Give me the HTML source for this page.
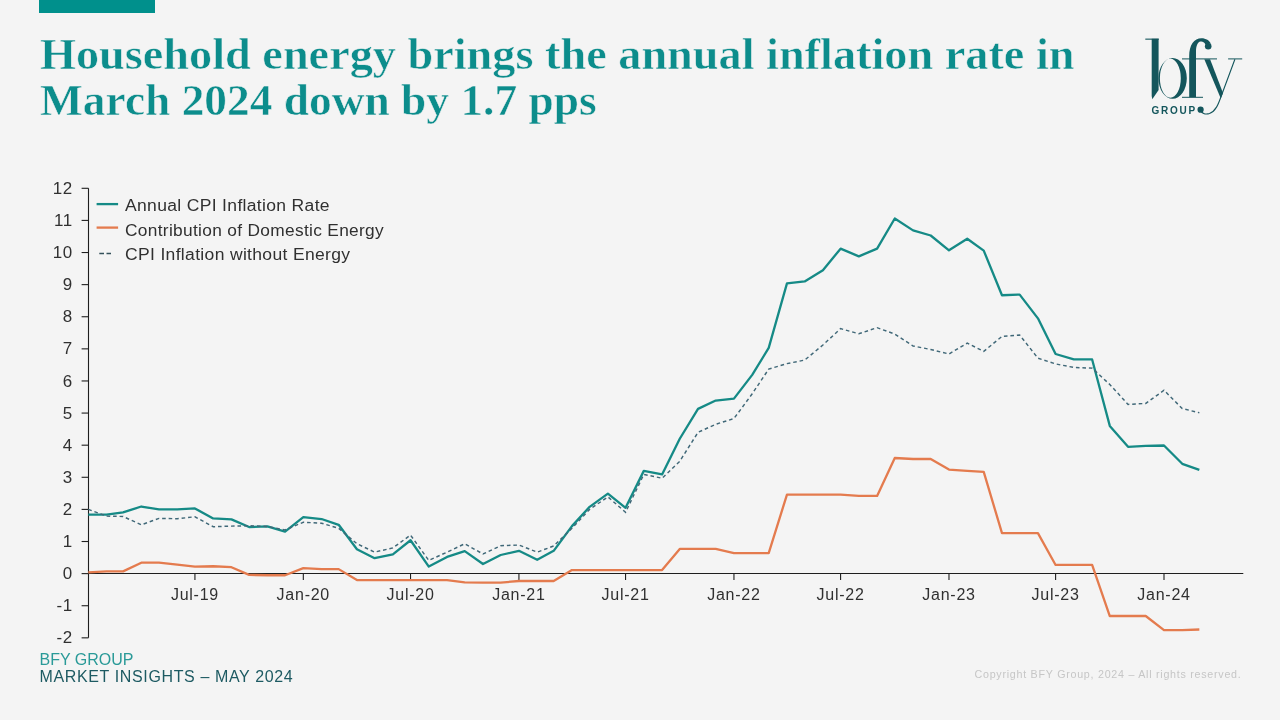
<!DOCTYPE html>
<html><head><meta charset="utf-8"><style>
*{margin:0;padding:0;box-sizing:border-box}
html,body{width:1280px;height:720px;overflow:hidden;background:#f4f4f4}
body{position:relative;font-family:"Liberation Sans",sans-serif}
.wrap{position:absolute;left:0;top:0;width:1280px;height:720px;will-change:transform}
.bar{position:absolute;left:39px;top:0;width:116px;height:12.5px;background:#00908c}
.title{position:absolute;left:39.5px;top:32.3px;font-family:"Liberation Serif",serif;font-weight:bold;color:#0c8d8c;font-size:43.6px;line-height:44.7px;-webkit-text-stroke:0.5px #f4f4f4;white-space:nowrap}
.title span{display:block;transform-origin:0 0}
#t1{transform:scaleX(1.0611)}
#t2{transform:scaleX(1.0414);margin-top:0.9px}
.yl{position:absolute;left:20px;width:52.5px;text-align:right;font-size:16px;line-height:18px;color:#303030;letter-spacing:0.4px;transform:scaleX(1.06);transform-origin:100% 0}
.xl{position:absolute;top:586px;width:80px;text-align:center;font-size:16px;line-height:18px;color:#303030;letter-spacing:0.75px}
.lg{position:absolute;left:124.5px;font-size:16px;line-height:18px;color:#303030;white-space:nowrap;letter-spacing:0.3px;transform-origin:0 0}
.f1{position:absolute;left:39.5px;top:650.9px;font-size:16px;color:#2a9a98;letter-spacing:0px;white-space:nowrap;line-height:18px}
.f2{position:absolute;left:39.5px;top:667.9px;font-size:16px;color:#1d5a62;letter-spacing:0.63px;white-space:nowrap;line-height:18px}
.cp{position:absolute;left:974.5px;top:668px;font-size:10.7px;color:#c6c6c6;white-space:nowrap;line-height:12px;letter-spacing:0.74px}
svg{position:absolute;left:0;top:0}
</style></head><body><div class="wrap">
<div class="bar"></div>
<div class="title"><span id="t1">Household energy brings the annual inflation rate in</span><span id="t2">March 2024 down by 1.7 pps</span></div>
<svg width="1280" height="720" viewBox="0 0 1280 720">
<g stroke="#1e1e1e" stroke-width="1.1" fill="none">
<line x1="88.5" y1="188.30" x2="88.5" y2="637.84"/>
<line x1="88.0" y1="573.5" x2="1243.3" y2="573.5"/>
<line x1="81.6" y1="637.84" x2="88.5" y2="637.84"/><line x1="81.6" y1="605.73" x2="88.5" y2="605.73"/><line x1="81.6" y1="573.62" x2="88.5" y2="573.62"/><line x1="81.6" y1="541.51" x2="88.5" y2="541.51"/><line x1="81.6" y1="509.40" x2="88.5" y2="509.40"/><line x1="81.6" y1="477.29" x2="88.5" y2="477.29"/><line x1="81.6" y1="445.18" x2="88.5" y2="445.18"/><line x1="81.6" y1="413.07" x2="88.5" y2="413.07"/><line x1="81.6" y1="380.96" x2="88.5" y2="380.96"/><line x1="81.6" y1="348.85" x2="88.5" y2="348.85"/><line x1="81.6" y1="316.74" x2="88.5" y2="316.74"/><line x1="81.6" y1="284.63" x2="88.5" y2="284.63"/><line x1="81.6" y1="252.52" x2="88.5" y2="252.52"/><line x1="81.6" y1="220.41" x2="88.5" y2="220.41"/><line x1="81.6" y1="188.30" x2="88.5" y2="188.30"/>
<line x1="194.93" y1="573.5" x2="194.93" y2="580"/><line x1="303.32" y1="573.5" x2="303.32" y2="580"/><line x1="410.54" y1="573.5" x2="410.54" y2="580"/><line x1="518.93" y1="573.5" x2="518.93" y2="580"/><line x1="625.56" y1="573.5" x2="625.56" y2="580"/><line x1="733.95" y1="573.5" x2="733.95" y2="580"/><line x1="840.58" y1="573.5" x2="840.58" y2="580"/><line x1="948.98" y1="573.5" x2="948.98" y2="580"/><line x1="1055.60" y1="573.5" x2="1055.60" y2="580"/><line x1="1164.00" y1="573.5" x2="1164.00" y2="580"/>
</g>
<polyline points="88.30,514.54 106.56,514.54 123.06,512.29 141.32,506.51 158.99,509.40 177.25,509.40 194.93,508.44 213.19,518.39 231.45,519.35 249.12,527.06 267.39,526.42 285.06,531.56 303.32,517.11 321.58,519.03 338.67,524.81 356.93,549.22 374.60,558.21 392.86,554.35 410.54,540.23 428.80,566.56 447.06,556.92 464.73,551.14 483.00,563.99 500.67,555.00 518.93,550.82 537.19,559.81 553.69,550.82 571.95,526.10 589.62,506.83 607.89,493.67 625.56,507.79 643.82,470.87 662.08,474.40 679.76,438.76 698.02,408.90 715.69,400.55 733.95,398.62 752.22,374.86 768.71,347.89 786.97,283.35 804.65,281.42 822.91,270.18 840.58,248.67 858.84,256.37 877.10,248.67 894.78,218.48 913.04,230.36 930.71,235.50 948.98,250.27 967.24,238.71 983.73,250.59 1001.99,295.23 1019.67,294.58 1037.93,318.35 1055.60,353.99 1073.86,359.45 1092.13,359.45 1109.80,425.91 1128.06,446.79 1145.73,445.82 1164.00,445.50 1182.26,463.80 1199.34,469.90" fill="none" stroke="#158a86" stroke-width="2.3" stroke-linejoin="round"/>
<polyline points="88.30,572.34 106.56,571.37 123.06,571.37 141.32,562.70 158.99,562.70 177.25,564.63 194.93,566.56 213.19,566.23 231.45,567.20 249.12,574.90 267.39,575.23 285.06,575.23 303.32,568.16 321.58,569.12 338.67,569.12 356.93,580.04 374.60,580.04 392.86,580.04 410.54,580.04 428.80,580.04 447.06,580.04 464.73,582.29 483.00,582.61 500.67,582.61 518.93,581.01 537.19,581.01 553.69,581.01 571.95,570.09 589.62,570.09 607.89,570.09 625.56,570.09 643.82,570.09 662.08,570.09 679.76,548.90 698.02,548.90 715.69,548.90 733.95,553.07 752.22,553.07 768.71,553.07 786.97,494.63 804.65,494.63 822.91,494.63 840.58,494.63 858.84,495.91 877.10,495.91 894.78,458.02 913.04,458.99 930.71,458.99 948.98,469.58 967.24,470.87 983.73,471.83 1001.99,533.16 1019.67,533.16 1037.93,533.16 1055.60,564.95 1073.86,564.95 1092.13,564.95 1109.80,616.01 1128.06,616.01 1145.73,616.01 1164.00,630.13 1182.26,630.13 1199.34,629.49" fill="none" stroke="#e47b4e" stroke-width="2.3" stroke-linejoin="round"/>
<polyline points="88.30,509.40 106.56,516.14 123.06,516.46 141.32,524.81 158.99,518.39 177.25,518.71 194.93,516.79 213.19,526.74 231.45,526.10 249.12,525.78 267.39,526.42 285.06,529.95 303.32,522.24 321.58,523.21 338.67,528.34 356.93,543.76 374.60,552.11 392.86,547.93 410.54,535.09 428.80,560.45 447.06,552.11 464.73,543.76 483.00,554.03 500.67,545.68 518.93,545.04 537.19,552.11 553.69,546.01 571.95,528.34 589.62,509.40 607.89,496.88 625.56,512.29 643.82,474.40 662.08,478.25 679.76,461.24 698.02,432.34 715.69,424.31 733.95,418.53 752.22,393.80 768.71,369.08 786.97,363.62 804.65,360.09 822.91,345.00 840.58,328.62 858.84,333.76 877.10,327.66 894.78,334.08 913.04,345.96 930.71,349.49 948.98,353.99 967.24,343.07 983.73,351.42 1001.99,336.33 1019.67,335.04 1037.93,358.16 1055.60,363.94 1073.86,367.47 1092.13,368.12 1109.80,384.49 1128.06,404.40 1145.73,403.44 1164.00,390.27 1182.26,408.57 1199.34,412.75" fill="none" stroke="#406878" stroke-width="1.45" stroke-dasharray="3.6 2.9"/>
<line x1="96.6" y1="204.1" x2="118.1" y2="204.1" stroke="#158a86" stroke-width="2.3"/>
<line x1="96.6" y1="227.6" x2="118.1" y2="227.6" stroke="#e47b4e" stroke-width="2.3"/>
<line x1="99.3" y1="253.4" x2="111" y2="253.4" stroke="#33505a" stroke-width="1.5" stroke-dasharray="4.7 2.5"/>
</svg>
<div class="yl" style="top:629.44px">-2</div><div class="yl" style="top:597.33px">-1</div><div class="yl" style="top:565.22px">0</div><div class="yl" style="top:533.11px">1</div><div class="yl" style="top:501.00px">2</div><div class="yl" style="top:468.89px">3</div><div class="yl" style="top:436.78px">4</div><div class="yl" style="top:404.67px">5</div><div class="yl" style="top:372.56px">6</div><div class="yl" style="top:340.45px">7</div><div class="yl" style="top:308.34px">8</div><div class="yl" style="top:276.23px">9</div><div class="yl" style="top:244.12px">10</div><div class="yl" style="top:212.01px">11</div><div class="yl" style="top:179.90px">12</div>
<div class="xl" style="left:154.93px">Jul-19</div><div class="xl" style="left:263.32px">Jan-20</div><div class="xl" style="left:370.54px">Jul-20</div><div class="xl" style="left:478.93px">Jan-21</div><div class="xl" style="left:585.56px">Jul-21</div><div class="xl" style="left:693.95px">Jan-22</div><div class="xl" style="left:800.58px">Jul-22</div><div class="xl" style="left:908.98px">Jan-23</div><div class="xl" style="left:1015.60px">Jul-23</div><div class="xl" style="left:1124.00px">Jan-24</div>
<div class="lg" style="top:197px;transform:scaleX(1.095)">Annual CPI Inflation Rate</div>
<div class="lg" style="top:221.5px;transform:scaleX(1.081)">Contribution of Domestic Energy</div>
<div class="lg" style="top:246.1px;transform:scaleX(1.095)">CPI Inflation without Energy</div>
<div class="f1">BFY GROUP</div>
<div class="f2">MARKET INSIGHTS &#8211; MAY 2024</div>
<div class="cp">Copyright BFY Group, 2024 &#8211; All rights reserved.</div>
<svg style="left:1140px;top:30px" width="110" height="90" viewBox="1140 30 110 90">
<g fill="#14565c">
<rect x="1145.3" y="38.6" width="13.5" height="1.1"/>
<path d="M1151.7,38.8 L1158.6,38.8 L1158.6,90 L1152.3,99.3 L1151.7,96 Z"/>
<path fill-rule="evenodd" d="M1158.4,78.3 a14.2,20.4 0 1,0 28.4,0 a14.2,20.4 0 1,0 -28.4,0 Z M1159.9,78.3 a10.45,19.45 0 1,0 20.9,0 a10.45,19.45 0 1,0 -20.9,0 Z"/>
<path d="M1189.2,97.2 L1189.2,56 C1189.2,45 1194,38.2 1201.5,38.2 C1206,38.2 1209.5,40.5 1210.8,43.5 L1205.5,44.5 C1204,42 1202.5,41.3 1200.5,41.6 C1197.5,42.2 1196,46 1196,52 L1196,97.2 Z"/>
<circle cx="1208.2" cy="46.3" r="3.3"/>
<rect x="1182" y="96.8" width="21" height="1"/>
<rect x="1182" y="58.4" width="35" height="1"/>
<rect x="1228.1" y="58.4" width="14.1" height="1"/>
<path d="M1204.3,59.3 L1210.1,59.3 L1223,93 L1220.8,98.5 Z"/>
<circle cx="1200.6" cy="109.7" r="3.1"/>
</g>
<path d="M1234.9,59.3 L1220.8,97.2 C1218.5,103.5 1216,111 1209.5,113.5 C1205,115 1201.5,113 1200.6,110" fill="none" stroke="#14565c" stroke-width="1.1"/>
<text x="1151.6" y="113.75" font-family="Liberation Sans" font-weight="bold" font-size="10" letter-spacing="1.7" fill="#14565c">GROUP</text>
</svg>

</div></body></html>
